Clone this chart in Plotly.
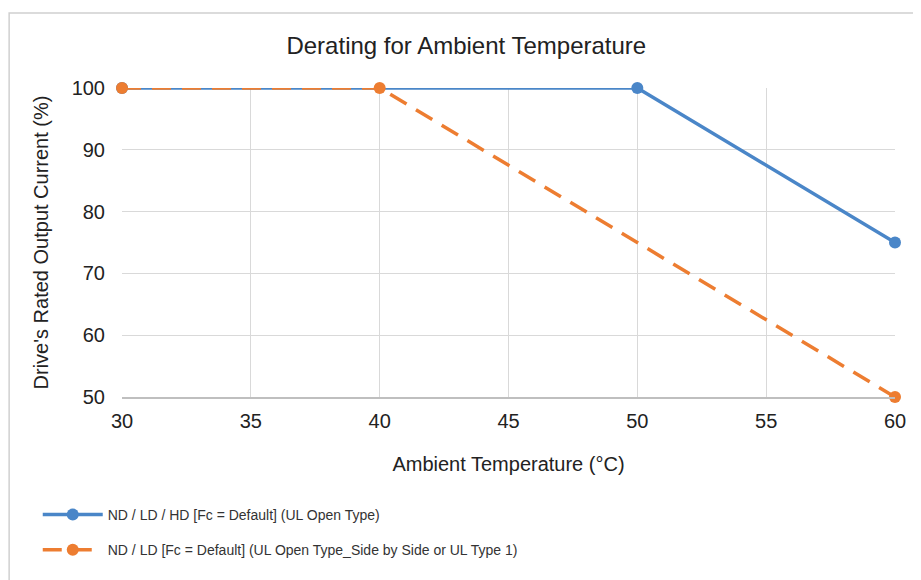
import plotly.graph_objects as go

# ambient temperature (°C) and rated output current (%)
temp_open = [30, 50, 60]
current_open = [100, 100, 75]
temp_side = [30, 40, 60]
current_side = [100, 100, 50]

name_open = "ND / LD / HD [Fc = Default] (UL Open Type)"
name_side = "ND / LD [Fc = Default] (UL Open Type_Side by Side or UL Type 1)"

BLUE = "#4a86c8"
ORANGE = "#ed7d31"
FONT = "Liberation Sans, Arial, sans-serif"

fig = go.Figure()
fig.add_trace(go.Scatter(x=temp_open, y=current_open, name=name_open,
                         mode="lines+markers", legendgroup="a",
                         line=dict(color=BLUE, width=3.5),
                         marker=dict(color=BLUE, size=12),
                         cliponaxis=False))
fig.add_trace(go.Scatter(x=temp_side, y=current_side, name=name_side,
                         mode="lines+markers", legendgroup="b",
                         line=dict(color=ORANGE, width=3.5, dash="19px,11px"),
                         marker=dict(color=ORANGE, size=12),
                         cliponaxis=False))

# page body adds 8px, so the figure is 8px smaller than the window
fig.update_layout(
    width=913, height=572,
    margin=dict(l=114, r=26, t=80, b=183),
    paper_bgcolor="white", plot_bgcolor="white",
    font=dict(family=FONT, color="#333333"),
    title=dict(text="Derating for Ambient Temperature", x=0.502, xanchor="center",
               y=0.935, yanchor="middle", font=dict(size=24, color="#222222")),
    legend=dict(x=-0.109, y=-0.33, xanchor="left", yanchor="top",
                traceorder="grouped", tracegroupgap=14,
                font=dict(size=14, color="#333333"), itemwidth=60),
    shapes=[dict(type="rect", xref="paper", yref="paper",
                 x0=-0.146, x1=1.06, y0=-0.65, y1=1.243,
                 line=dict(color="#d0d0d0", width=1.5), layer="below")],
)
fig.update_xaxes(range=[30, 60], dtick=5, showgrid=True, gridcolor="#d9d9d9",
                 showline=True, linecolor="#bfbfbf", linewidth=1.5, zeroline=False,
                 ticks="", ticklabelstandoff=5, tickfont=dict(size=20, color="#222222"),
                 title=dict(text="Ambient Temperature (°C)", standoff=26,
                            font=dict(size=20, color="#222222")))
fig.update_yaxes(range=[50, 100], dtick=10, showgrid=True, gridcolor="#d9d9d9",
                 showline=False, zeroline=False, ticks="", ticklabelstandoff=16,
                 tickfont=dict(size=20, color="#222222"),
                 title=dict(text="Drive's Rated Output Current (%)", standoff=17,
                            font=dict(size=20, color="#222222")))

fig.write_html("out.html")
